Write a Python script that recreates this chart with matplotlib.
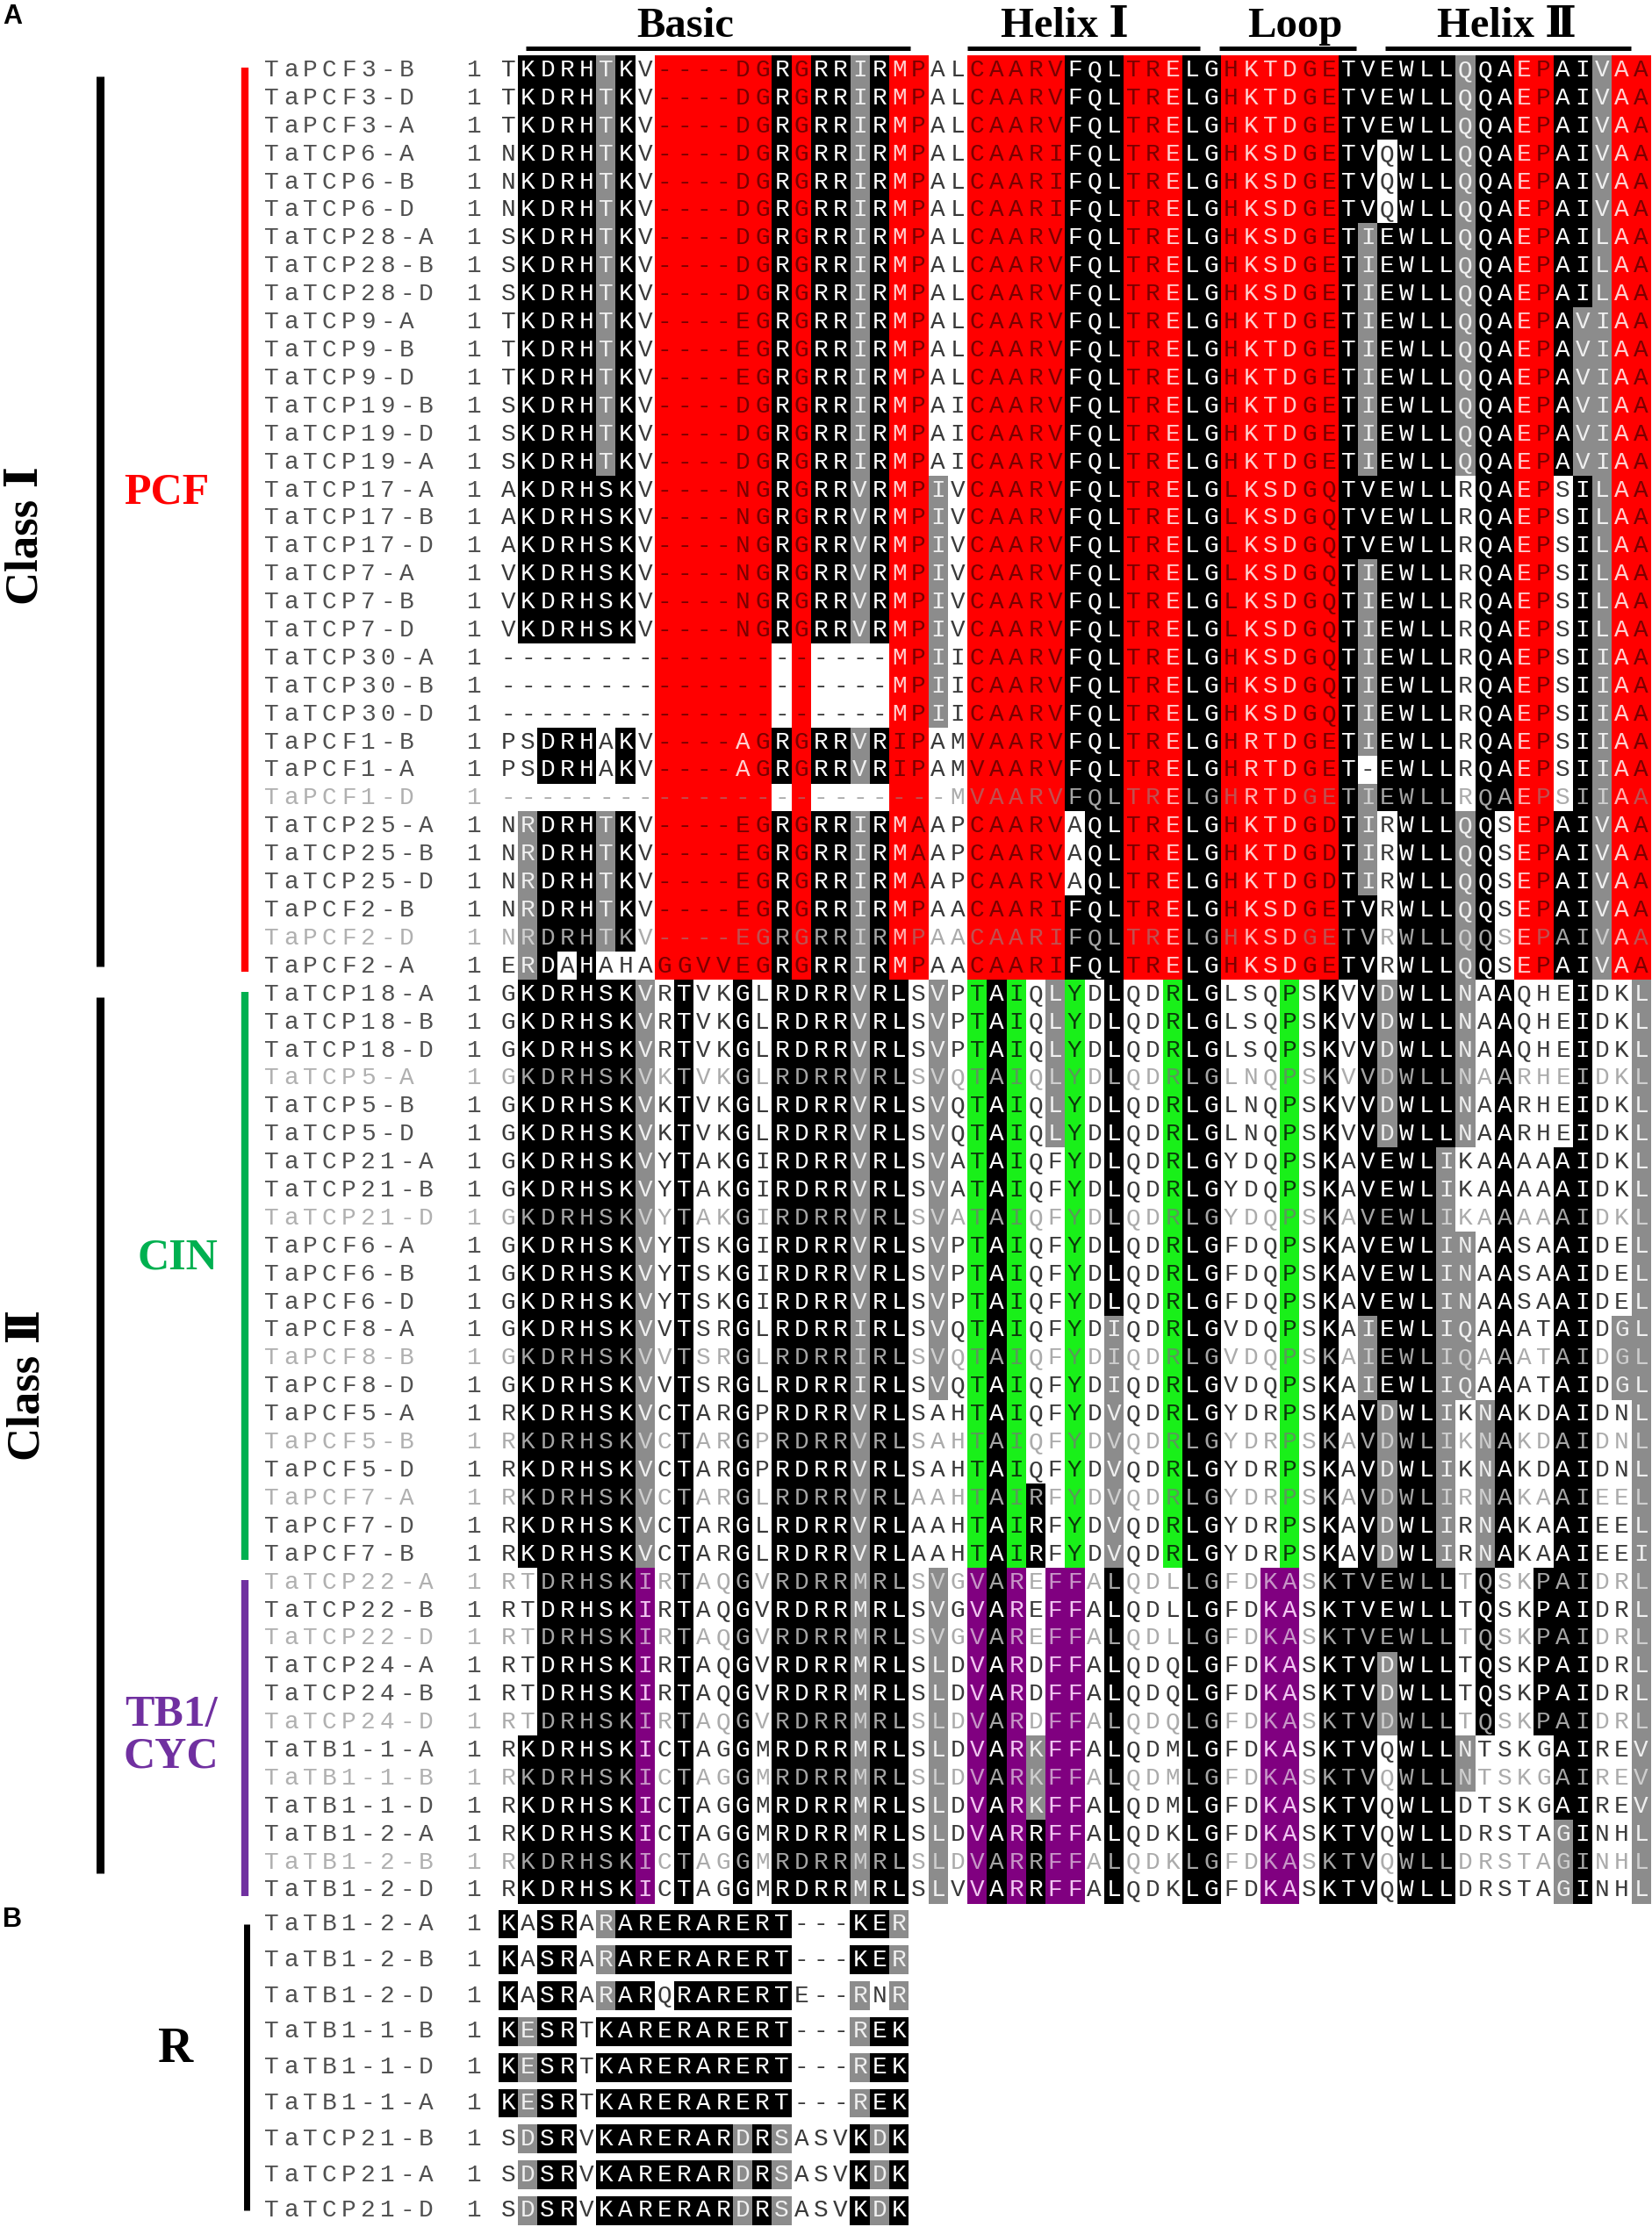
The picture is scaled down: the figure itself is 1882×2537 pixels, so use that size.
import matplotlib
matplotlib.use("Agg")
import matplotlib.pyplot as plt
import numpy as np
from matplotlib.colors import ListedColormap

## Panel A: TCP domain alignment (names, residues, shading class per residue)
names_a = [
    'TaPCF3-B', 'TaPCF3-D', 'TaPCF3-A',
    'TaTCP6-A', 'TaTCP6-B', 'TaTCP6-D',
    'TaTCP28-A', 'TaTCP28-B', 'TaTCP28-D',
    'TaTCP9-A', 'TaTCP9-B', 'TaTCP9-D',
    'TaTCP19-B', 'TaTCP19-D', 'TaTCP19-A',
    'TaTCP17-A', 'TaTCP17-B', 'TaTCP17-D',
    'TaTCP7-A', 'TaTCP7-B', 'TaTCP7-D',
    'TaTCP30-A', 'TaTCP30-B', 'TaTCP30-D',
    'TaPCF1-B', 'TaPCF1-A', 'TaPCF1-D',
    'TaTCP25-A', 'TaTCP25-B', 'TaTCP25-D',
    'TaPCF2-B', 'TaPCF2-D', 'TaPCF2-A',
    'TaTCP18-A', 'TaTCP18-B', 'TaTCP18-D',
    'TaTCP5-A', 'TaTCP5-B', 'TaTCP5-D',
    'TaTCP21-A', 'TaTCP21-B', 'TaTCP21-D',
    'TaPCF6-A', 'TaPCF6-B', 'TaPCF6-D',
    'TaPCF8-A', 'TaPCF8-B', 'TaPCF8-D',
    'TaPCF5-A', 'TaPCF5-B', 'TaPCF5-D',
    'TaPCF7-A', 'TaPCF7-D', 'TaPCF7-B',
    'TaTCP22-A', 'TaTCP22-B', 'TaTCP22-D',
    'TaTCP24-A', 'TaTCP24-B', 'TaTCP24-D',
    'TaTB1-1-A', 'TaTB1-1-B', 'TaTB1-1-D',
    'TaTB1-2-A', 'TaTB1-2-B', 'TaTB1-2-D',
]

seqs_a = [
    'TKDRHTKV----DGRGRRIRMPALCAARVFQLTRELGHKTDGETVEWLLQQAEPAIVAA',
    'TKDRHTKV----DGRGRRIRMPALCAARVFQLTRELGHKTDGETVEWLLQQAEPAIVAA',
    'TKDRHTKV----DGRGRRIRMPALCAARVFQLTRELGHKTDGETVEWLLQQAEPAIVAA',
    'NKDRHTKV----DGRGRRIRMPALCAARIFQLTRELGHKSDGETVQWLLQQAEPAIVAA',
    'NKDRHTKV----DGRGRRIRMPALCAARIFQLTRELGHKSDGETVQWLLQQAEPAIVAA',
    'NKDRHTKV----DGRGRRIRMPALCAARIFQLTRELGHKSDGETVQWLLQQAEPAIVAA',
    'SKDRHTKV----DGRGRRIRMPALCAARVFQLTRELGHKSDGETIEWLLQQAEPAILAA',
    'SKDRHTKV----DGRGRRIRMPALCAARVFQLTRELGHKSDGETIEWLLQQAEPAILAA',
    'SKDRHTKV----DGRGRRIRMPALCAARVFQLTRELGHKSDGETIEWLLQQAEPAILAA',
    'TKDRHTKV----EGRGRRIRMPALCAARVFQLTRELGHKTDGETIEWLLQQAEPAVIAA',
    'TKDRHTKV----EGRGRRIRMPALCAARVFQLTRELGHKTDGETIEWLLQQAEPAVIAA',
    'TKDRHTKV----EGRGRRIRMPALCAARVFQLTRELGHKTDGETIEWLLQQAEPAVIAA',
    'SKDRHTKV----DGRGRRIRMPAICAARVFQLTRELGHKTDGETIEWLLQQAEPAVIAA',
    'SKDRHTKV----DGRGRRIRMPAICAARVFQLTRELGHKTDGETIEWLLQQAEPAVIAA',
    'SKDRHTKV----DGRGRRIRMPAICAARVFQLTRELGHKTDGETIEWLLQQAEPAVIAA',
    'AKDRHSKV----NGRGRRVRMPIVCAARVFQLTRELGLKSDGQTVEWLLRQAEPSILAA',
    'AKDRHSKV----NGRGRRVRMPIVCAARVFQLTRELGLKSDGQTVEWLLRQAEPSILAA',
    'AKDRHSKV----NGRGRRVRMPIVCAARVFQLTRELGLKSDGQTVEWLLRQAEPSILAA',
    'VKDRHSKV----NGRGRRVRMPIVCAARVFQLTRELGLKSDGQTIEWLLRQAEPSILAA',
    'VKDRHSKV----NGRGRRVRMPIVCAARVFQLTRELGLKSDGQTIEWLLRQAEPSILAA',
    'VKDRHSKV----NGRGRRVRMPIVCAARVFQLTRELGLKSDGQTIEWLLRQAEPSILAA',
    '--------------------MPIICAARVFQLTRELGHKSDGQTIEWLLRQAEPSIIAA',
    '--------------------MPIICAARVFQLTRELGHKSDGQTIEWLLRQAEPSIIAA',
    '--------------------MPIICAARVFQLTRELGHKSDGQTIEWLLRQAEPSIIAA',
    'PSDRHAKV----AGRGRRVRIPAMVAARVFQLTRELGHRTDGETIEWLLRQAEPSIIAA',
    'PSDRHAKV----AGRGRRVRIPAMVAARVFQLTRELGHRTDGET-EWLLRQAEPSIIAA',
    '-----------------------MVAARVFQLTRELGHRTDGETIEWLLRQAEPSIIAA',
    'NRDRHTKV----EGRGRRIRMAAPCAARVAQLTRELGHKTDGDTIRWLLQQSEPAIVAA',
    'NRDRHTKV----EGRGRRIRMAAPCAARVAQLTRELGHKTDGDTIRWLLQQSEPAIVAA',
    'NRDRHTKV----EGRGRRIRMAAPCAARVAQLTRELGHKTDGDTIRWLLQQSEPAIVAA',
    'NRDRHTKV----EGRGRRIRMPAACAARIFQLTRELGHKSDGETVRWLLQQSEPAIVAA',
    'NRDRHTKV----EGRGRRIRMPAACAARIFQLTRELGHKSDGETVRWLLQQSEPAIVAA',
    'ERDAHAHAGGVVEGRGRRIRMPAACAARIFQLTRELGHKSDGETVRWLLQQSEPAIVAA',
    'GKDRHSKVRTVKGLRDRRVRLSVPTAIQLYDLQDRLGLSQPSKVVDWLLNAAQHEIDKL',
    'GKDRHSKVRTVKGLRDRRVRLSVPTAIQLYDLQDRLGLSQPSKVVDWLLNAAQHEIDKL',
    'GKDRHSKVRTVKGLRDRRVRLSVPTAIQLYDLQDRLGLSQPSKVVDWLLNAAQHEIDKL',
    'GKDRHSKVKTVKGLRDRRVRLSVQTAIQLYDLQDRLGLNQPSKVVDWLLNAARHEIDKL',
    'GKDRHSKVKTVKGLRDRRVRLSVQTAIQLYDLQDRLGLNQPSKVVDWLLNAARHEIDKL',
    'GKDRHSKVKTVKGLRDRRVRLSVQTAIQLYDLQDRLGLNQPSKVVDWLLNAARHEIDKL',
    'GKDRHSKVYTAKGIRDRRVRLSVATAIQFYDLQDRLGYDQPSKAVEWLIKAAAAAIDKL',
    'GKDRHSKVYTAKGIRDRRVRLSVATAIQFYDLQDRLGYDQPSKAVEWLIKAAAAAIDKL',
    'GKDRHSKVYTAKGIRDRRVRLSVATAIQFYDLQDRLGYDQPSKAVEWLIKAAAAAIDKL',
    'GKDRHSKVYTSKGIRDRRVRLSVPTAIQFYDLQDRLGFDQPSKAVEWLINAASAAIDEL',
    'GKDRHSKVYTSKGIRDRRVRLSVPTAIQFYDLQDRLGFDQPSKAVEWLINAASAAIDEL',
    'GKDRHSKVYTSKGIRDRRVRLSVPTAIQFYDLQDRLGFDQPSKAVEWLINAASAAIDEL',
    'GKDRHSKVVTSRGLRDRRIRLSVQTAIQFYDIQDRLGVDQPSKAIEWLIQAAATAIDGL',
    'GKDRHSKVVTSRGLRDRRIRLSVQTAIQFYDIQDRLGVDQPSKAIEWLIQAAATAIDGL',
    'GKDRHSKVVTSRGLRDRRIRLSVQTAIQFYDIQDRLGVDQPSKAIEWLIQAAATAIDGL',
    'RKDRHSKVCTARGPRDRRVRLSAHTAIQFYDVQDRLGYDRPSKAVDWLIKNAKDAIDNL',
    'RKDRHSKVCTARGPRDRRVRLSAHTAIQFYDVQDRLGYDRPSKAVDWLIKNAKDAIDNL',
    'RKDRHSKVCTARGPRDRRVRLSAHTAIQFYDVQDRLGYDRPSKAVDWLIKNAKDAIDNL',
    'RKDRHSKVCTARGLRDRRVRLAAHTAIRFYDVQDRLGYDRPSKAVDWLIRNAKAAIEEL',
    'RKDRHSKVCTARGLRDRRVRLAAHTAIRFYDVQDRLGYDRPSKAVDWLIRNAKAAIEEL',
    'RKDRHSKVCTARGLRDRRVRLAAHTAIRFYDVQDRLGYDRPSKAVDWLIRNAKAAIEEI',
    'RTDRHSKIRTAQGVRDRRMRLSVGVAREFFALQDLLGFDKASKTVEWLLTQSKPAIDRL',
    'RTDRHSKIRTAQGVRDRRMRLSVGVAREFFALQDLLGFDKASKTVEWLLTQSKPAIDRL',
    'RTDRHSKIRTAQGVRDRRMRLSVGVAREFFALQDLLGFDKASKTVEWLLTQSKPAIDRL',
    'RTDRHSKIRTAQGVRDRRMRLSLDVARDFFALQDQLGFDKASKTVDWLLTQSKPAIDRL',
    'RTDRHSKIRTAQGVRDRRMRLSLDVARDFFALQDQLGFDKASKTVDWLLTQSKPAIDRL',
    'RTDRHSKIRTAQGVRDRRMRLSLDVARDFFALQDQLGFDKASKTVDWLLTQSKPAIDRL',
    'RKDRHSKICTAGGMRDRRMRLSLDVARKFFALQDMLGFDKASKTVQWLLNTSKGAIREV',
    'RKDRHSKICTAGGMRDRRMRLSLDVARKFFALQDMLGFDKASKTVQWLLNTSKGAIREV',
    'RKDRHSKICTAGGMRDRRMRLSLDVARKFFALQDMLGFDKASKTVQWLLDTSKGAIREV',
    'RKDRHSKICTAGGMRDRRMRLSLDVARRFFALQDKLGFDKASKTVQWLLDRSTAGINHL',
    'RKDRHSKICTAGGMRDRRMRLSLDVARRFFALQDKLGFDKASKTVQWLLDRSTAGINHL',
    'RKDRHSKICTAGGMRDRRMRLSLVVARRFFALQDKLGFDKASKTVQWLLDRSTAGINHL',
]

# w white, k identical (black), g similar (grey), r/R PCF red, G CIN green, p CYC/TB1 purple
shade_a = [
    'wkkkkgkwrrrrrrkrkkgkRrwwrrrrrkkkrrRkkrRRRrrkkkkkkgkkRrkkgRr',
    'wkkkkgkwrrrrrrkrkkgkRrwwrrrrrkkkrrRkkrRRRrrkkkkkkgkkRrkkgRr',
    'wkkkkgkwrrrrrrkrkkgkRrwwrrrrrkkkrrRkkrRRRrrkkkkkkgkkRrkkgRr',
    'wkkkkgkwrrrrrrkrkkgkRrwwrrrrrkkkrrRkkrRRRrrkkwkkkgkkRrkkgRr',
    'wkkkkgkwrrrrrrkrkkgkRrwwrrrrrkkkrrRkkrRRRrrkkwkkkgkkRrkkgRr',
    'wkkkkgkwrrrrrrkrkkgkRrwwrrrrrkkkrrRkkrRRRrrkkwkkkgkkRrkkgRr',
    'wkkkkgkwrrrrrrkrkkgkRrwwrrrrrkkkrrRkkrRRRrrkgkkkkgkkRrkkgRr',
    'wkkkkgkwrrrrrrkrkkgkRrwwrrrrrkkkrrRkkrRRRrrkgkkkkgkkRrkkgRr',
    'wkkkkgkwrrrrrrkrkkgkRrwwrrrrrkkkrrRkkrRRRrrkgkkkkgkkRrkkgRr',
    'wkkkkgkwrrrrrrkrkkgkRrwwrrrrrkkkrrRkkrRRRrrkgkkkkgkkRrkggRr',
    'wkkkkgkwrrrrrrkrkkgkRrwwrrrrrkkkrrRkkrRRRrrkgkkkkgkkRrkggRr',
    'wkkkkgkwrrrrrrkrkkgkRrwwrrrrrkkkrrRkkrRRRrrkgkkkkgkkRrkggRr',
    'wkkkkgkwrrrrrrkrkkgkRrwwrrrrrkkkrrRkkrRRRrrkgkkkkgkkRrkggRr',
    'wkkkkgkwrrrrrrkrkkgkRrwwrrrrrkkkrrRkkrRRRrrkgkkkkgkkRrkggRr',
    'wkkkkgkwrrrrrrkrkkgkRrwwrrrrrkkkrrRkkrRRRrrkgkkkkgkkRrkggRr',
    'wkkkkkkwrrrrrrkrkkgkRrgwrrrrrkkkrrRkkrRRRrrkkkkkkwkkRrwkgRr',
    'wkkkkkkwrrrrrrkrkkgkRrgwrrrrrkkkrrRkkrRRRrrkkkkkkwkkRrwkgRr',
    'wkkkkkkwrrrrrrkrkkgkRrgwrrrrrkkkrrRkkrRRRrrkkkkkkwkkRrwkgRr',
    'wkkkkkkwrrrrrrkrkkgkRrgwrrrrrkkkrrRkkrRRRrrkgkkkkwkkRrwkgRr',
    'wkkkkkkwrrrrrrkrkkgkRrgwrrrrrkkkrrRkkrRRRrrkgkkkkwkkRrwkgRr',
    'wkkkkkkwrrrrrrkrkkgkRrgwrrrrrkkkrrRkkrRRRrrkgkkkkwkkRrwkgRr',
    'wwwwwwwwrrrrrrwrwwwwRrgwrrrrrkkkrrRkkrRRRrrkgkkkkwkkRrwkgRr',
    'wwwwwwwwrrrrrrwrwwwwRrgwrrrrrkkkrrRkkrRRRrrkgkkkkwkkRrwkgRr',
    'wwwwwwwwrrrrrrwrwwwwRrgwrrrrrkkkrrRkkrRRRrrkgkkkkwkkRrwkgRr',
    'wwkkkwkwrrrrRrkrkkgkrrwwrrrrrkkkrrRkkrRRRrrkgkkkkwkkRrwkgRr',
    'wwkkkwkwrrrrRrkrkkgkrrwwrrrrrkkkrrRkkrRRRrrkwkkkkwkkRrwkgRr',
    'wwwwwwwwrrrrrrwrwwwwrrwwrrrrrkkkrrRkkrRRRrrkgkkkkwkkRrwkgRr',
    'wgkkkgkwrrrrrrkrkkgkRrwwrrrrrwkkrrRkkrRRRrrkgwkkkgkwRrkkgRr',
    'wgkkkgkwrrrrrrkrkkgkRrwwrrrrrwkkrrRkkrRRRrrkgwkkkgkwRrkkgRr',
    'wgkkkgkwrrrrrrkrkkgkRrwwrrrrrwkkrrRkkrRRRrrkgwkkkgkwRrkkgRr',
    'wgkkkgkwrrrrrrkrkkgkRrwwrrrrrkkkrrRkkrRRRrrkkwkkkgkwRrkkgRr',
    'wgkkkgkwrrrrrrkrkkgkRrwwrrrrrkkkrrRkkrRRRrrkkwkkkgkwRrkkgRr',
    'wgkwkwwwrrrrrrkrkkgkRrwwrrrrrkkkrrRkkrRRRrrkkwkkkgkwRrkkgRr',
    'wkkkkkkgwkwwkwkkkkgkkwgwGkGwgGwkwwGkkwwwGwkwkgkkkgwkwwwkwwg',
    'wkkkkkkgwkwwkwkkkkgkkwgwGkGwgGwkwwGkkwwwGwkwkgkkkgwkwwwkwwg',
    'wkkkkkkgwkwwkwkkkkgkkwgwGkGwgGwkwwGkkwwwGwkwkgkkkgwkwwwkwwg',
    'wkkkkkkgwkwwkwkkkkgkkwgwGkGwgGwkwwGkkwwwGwkwkgkkkgwkwwwkwwg',
    'wkkkkkkgwkwwkwkkkkgkkwgwGkGwgGwkwwGkkwwwGwkwkgkkkgwkwwwkwwg',
    'wkkkkkkgwkwwkwkkkkgkkwgwGkGwgGwkwwGkkwwwGwkwkgkkkgwkwwwkwwg',
    'wkkkkkkgwkwwkwkkkkgkkwgwGkGwwGwkwwGkkwwwGwkwkkkkgwwkwwkkwwg',
    'wkkkkkkgwkwwkwkkkkgkkwgwGkGwwGwkwwGkkwwwGwkwkkkkgwwkwwkkwwg',
    'wkkkkkkgwkwwkwkkkkgkkwgwGkGwwGwkwwGkkwwwGwkwkkkkgwwkwwkkwwg',
    'wkkkkkkgwkwwkwkkkkgkkwgwGkGwwGwkwwGkkwwwGwkwkkkkggwkwwkkwwg',
    'wkkkkkkgwkwwkwkkkkgkkwgwGkGwwGwkwwGkkwwwGwkwkkkkggwkwwkkwwg',
    'wkkkkkkgwkwwkwkkkkgkkwgwGkGwwGwkwwGkkwwwGwkwkkkkggwkwwkkwwg',
    'wkkkkkkgwkwwkwkkkkgkkwgwGkGwwGwgwwGkkwwwGwkwgkkkggwkwwkkwgg',
    'wkkkkkkgwkwwkwkkkkgkkwgwGkGwwGwgwwGkkwwwGwkwgkkkggwkwwkkwgg',
    'wkkkkkkgwkwwkwkkkkgkkwgwGkGwwGwgwwGkkwwwGwkwgkkkggwkwwkkwgg',
    'wkkkkkkgwkwwkwkkkkgkkwwwGkGwwGwgwwGkkwwwGwkwkgkkgwgkwwkkwwg',
    'wkkkkkkgwkwwkwkkkkgkkwwwGkGwwGwgwwGkkwwwGwkwkgkkgwgkwwkkwwg',
    'wkkkkkkgwkwwkwkkkkgkkwwwGkGwwGwgwwGkkwwwGwkwkgkkgwgkwwkkwwg',
    'wkkkkkkgwkwwkwkkkkgkkwwwGkGkwGwgwwGkkwwwGwkwkgkkgwgkwwkkwwg',
    'wkkkkkkgwkwwkwkkkkgkkwwwGkGkwGwgwwGkkwwwGwkwkgkkgwgkwwkkwwg',
    'wkkkkkkgwkwwkwkkkkgkkwwwGkGkwGwgwwGkkwwwGwkwkgkkgwgkwwkkwwg',
    'wwkkkkkpwkwwkwkkkkgkkwgwpkpwppwkwwwkkwwppwkkkkkkkwkwwkkkwwg',
    'wwkkkkkpwkwwkwkkkkgkkwgwpkpwppwkwwwkkwwppwkkkkkkkwkwwkkkwwg',
    'wwkkkkkpwkwwkwkkkkgkkwgwpkpwppwkwwwkkwwppwkkkkkkkwkwwkkkwwg',
    'wwkkkkkpwkwwkwkkkkgkkwgwpkpwppwkwwwkkwwppwkkkgkkkwkwwkkkwwg',
    'wwkkkkkpwkwwkwkkkkgkkwgwpkpwppwkwwwkkwwppwkkkgkkkwkwwkkkwwg',
    'wwkkkkkpwkwwkwkkkkgkkwgwpkpwppwkwwwkkwwppwkkkgkkkwkwwkkkwwg',
    'wkkkkkkpwkwwkwkkkkgkkwgwpkpgppwkwwwkkwwppwkkkwkkkgwwwwkkwwg',
    'wkkkkkkpwkwwkwkkkkgkkwgwpkpgppwkwwwkkwwppwkkkwkkkgwwwwkkwwg',
    'wkkkkkkpwkwwkwkkkkgkkwgwpkpgppwkwwwkkwwppwkkkwkkkwwwwwkkwwg',
    'wkkkkkkpwkwwkwkkkkgkkwgwpkpkppwkwwwkkwwppwkkkwkkkwwwwwgkwwg',
    'wkkkkkkpwkwwkwkkkkgkkwgwpkpkppwkwwwkkwwppwkkkwkkkwwwwwgkwwg',
    'wkkkkkkpwkwwkwkkkkgkkwgwpkpkppwkwwwkkwwppwkkkwkkkwwwwwgkwwg',
]

faded_a = ['TaPCF1-D', 'TaPCF2-D', 'TaTCP5-A', 'TaTCP21-D', 'TaPCF8-B', 'TaPCF5-B',
           'TaPCF7-A', 'TaTCP22-A', 'TaTCP22-D', 'TaTCP24-D', 'TaTB1-1-B', 'TaTB1-2-B']

group_names = ['PCF', 'CIN', 'TB1/\nCYC']
group_sizes = [33, 21, 12]
class_names = ['Class Ⅰ', 'Class Ⅱ']
domain_names = ['Basic', 'Helix Ⅰ', 'Loop', 'Helix Ⅱ']

## Panel B: R domain
names_b = ['TaTB1-2-A', 'TaTB1-2-B', 'TaTB1-2-D', 'TaTB1-1-B', 'TaTB1-1-D',
           'TaTB1-1-A', 'TaTCP21-B', 'TaTCP21-A', 'TaTCP21-D']
seqs_b = [
    'KASRARARERARERT---KER',
    'KASRARARERARERT---KER',
    'KASRARARQRARERTE--RNR',
    'KESRTKARERARERT---REK',
    'KESRTKARERARERT---REK',
    'KESRTKARERARERT---REK',
    'SDSRVKARERARDRSASVKDK',
    'SDSRVKARERARDRSASVKDK',
    'SDSRVKARERARDRSASVKDK',
]
shade_b = [
    'kwkkwgkkkkkkkkkwwwkkg',
    'kwkkwgkkkkkkkkkwwwkkg',
    'kwkkwgkkwkkkkkkwwwgwg',
    'kgkkwkkkkkkkkkkwwwgkk',
    'kgkkwkkkkkkkkkkwwwgkk',
    'kgkkwkkkkkkkkkkwwwgkk',
    'wgkkwkkkkkkkgkgwwwkgk',
    'wgkkwkkkkkkkgkgwwwkgk',
    'wgkkwkkkkkkkgkgwwwkgk',
]

for s, h in zip(seqs_a + seqs_b, shade_a + shade_b):
    assert len(s) == len(h), (s, h)

# ---- layout (pixel coordinates of the 1883x2537 canvas) ----
X0, CW = 568, 22.25          # first residue column, column width
YA0, RHA = 80, 31.9          # panel A first row centre, row pitch
YB0, RHB = 2192, 40.8        # panel B
NAME_X, NUM_X = 298, 540

codes = 'wkgrRGp'
bg_colors = ['#ffffff', '#000000', '#8c8c8c', '#ff0000', '#ff0000', '#19f019', '#800080']
txt_normal = {'w': '#3a3a3a', 'k': '#ffffff', 'g': '#f0f0f0', 'r': '#7a0000',
              'R': '#ffd0d0', 'G': '#0b3a0b', 'p': '#f2c6f2'}
txt_faded = {'w': '#ababab', 'k': '#a5a5a5', 'g': '#cfcfcf', 'r': '#c05050',
             'R': '#ffb0b0', 'G': '#5a9a5a', 'p': '#c896c8'}
group_colors = ['#ff0000', '#00b050', '#7030a0']
MONO = 'Liberation Mono'
SERIF = ['Liberation Serif', 'DejaVu Serif', 'DejaVu Sans']

fig = plt.figure(figsize=(18.83, 25.37), dpi=100)
ax = fig.add_axes([0, 0, 1, 1])

# Step 1: shading of panel A
nrow, ncol = len(seqs_a), len(seqs_a[0])
mat = np.array([[codes.index(c) for c in row] for row in shade_a])
ax.imshow(mat, cmap=ListedColormap(bg_colors), vmin=-0.5, vmax=len(codes) - 0.5,
          interpolation='nearest', aspect='auto',
          extent=(X0, X0 + ncol * CW, YA0 + (nrow - 0.5) * RHA, YA0 - 0.5 * RHA))

# Step 2: residues, names and start numbers
def draw_row(y, name, seq, shade, faded):
    pal = txt_faded if faded else txt_normal
    name_col = '#b0b0b0' if faded else '#505050'
    for k, ch in enumerate(name):
        ax.text(NAME_X + (k + 0.5) * 22.05, y, ch, ha='center', va='center',
                family=MONO, fontsize=20, color=name_col)
    ax.text(NUM_X, y, '1', ha='center', va='center', family=MONO, fontsize=20, color=name_col)
    for j, (ch, c) in enumerate(zip(seq, shade)):
        ax.text(X0 + (j + 0.5) * CW, y, ch, ha='center', va='center',
                family=MONO, fontsize=20, color=pal[c])

for i, (nm, sq, sh) in enumerate(zip(names_a, seqs_a, shade_a)):
    draw_row(YA0 + i * RHA, nm, sq, sh, nm in faded_a)

# Step 3: domain header with underlines
dom_spans = [(1.4, 21.1), (24.0, 35.9), (36.9, 43.9), (45.4, 58.0)]
dom_text_x = [781, 1213, 1475, 1716]
for name, (a, b), tx in zip(domain_names, dom_spans, dom_text_x):
    ax.plot([X0 + a * CW, X0 + b * CW], [55, 55], color='black', lw=3.6, solid_capstyle='butt')
    ax.text(tx, 30, name, ha='center', va='center', family=SERIF, fontsize=35,
            fontweight='bold')

# Step 4: subfamily bars and labels
row_c = lambda i: YA0 + i * RHA
starts = np.cumsum([0] + group_sizes[:-1])
label_y = [561, 1434, 1978]
label_x = [190, 202, 195]
for g, (nm, st, n) in enumerate(zip(group_names, starts, group_sizes)):
    ax.plot([279, 279], [row_c(st) - 3, row_c(st + n - 1) + 6], color=group_colors[g],
            lw=6, solid_capstyle='butt')
    ax.text(label_x[g], label_y[g], nm, ha='center', va='center', family=SERIF,
            fontsize=36, fontweight='bold', color=group_colors[g], linespacing=1.05)

# class bars
ax.plot([114, 114], [row_c(0) + 7, row_c(group_sizes[0] - 1)], color='black', lw=6.5,
        solid_capstyle='butt')
ax.plot([114, 114], [row_c(group_sizes[0]) + 3, row_c(nrow - 1) - 20], color='black',
        lw=6.5, solid_capstyle='butt')
ax.text(30, 610, class_names[0], rotation=90, ha='center', va='center', family=SERIF,
        fontsize=38, fontweight='bold')
ax.text(32, 1578, class_names[1], rotation=90, ha='center', va='center', family=SERIF,
        fontsize=38, fontweight='bold')

# Step 5: panel B
bh = 0.8 * RHB
for i, (nm, sq, sh) in enumerate(zip(names_b, seqs_b, shade_b)):
    y = YB0 + i * RHB
    for col in ['k', 'g']:
        xs = [X0 + j * CW for j, c in enumerate(sh) if c == col]
        ax.bar(xs, bh, width=CW, bottom=y - bh / 2, align='edge',
               color=bg_colors[codes.index(col)], linewidth=0)
    draw_row(y, nm, sq, sh, False)

ax.plot([281, 281], [YB0, YB0 + (len(names_b) - 1) * RHB], color='black', lw=5,
        solid_capstyle='butt')
ax.text(200, 2335, 'R', ha='center', va='center', family=SERIF, fontsize=40,
        fontweight='bold')

# panel letters
ax.text(3, 4, 'A', ha='left', va='top', family='Liberation Sans', fontsize=22,
        fontweight='bold')
ax.text(3, 2172, 'B', ha='left', va='top', family='Liberation Sans', fontsize=22,
        fontweight='bold')

ax.set_xlim(0, 1883)
ax.set_ylim(2537, 0)
ax.axis('off')

fig.savefig('out.png', dpi=100)
